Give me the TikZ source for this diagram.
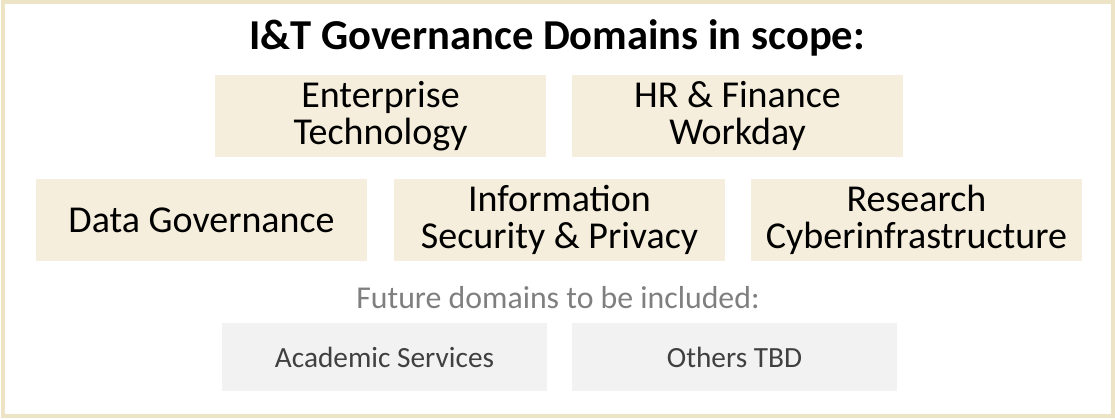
\documentclass[tikz,border=0pt]{standalone}
\usepackage{fontspec}
\setmainfont{Carlito}
\definecolor{frame}{HTML}{EDE3C5}
\definecolor{tan}{HTML}{F6EEDC}
\definecolor{lgray}{HTML}{F2F2F2}
\definecolor{dgray}{HTML}{404040}
\definecolor{mgray}{HTML}{7F7F7F}
\tikzset{
  dombox/.style={fill=tan, draw=none, minimum width=331pt, minimum height=82pt, inner sep=0pt, align=center, text=black, font=\fontsize{38}{37}\selectfont},
  futbox/.style={fill=lgray, draw=none, minimum width=325pt, minimum height=68pt, inner sep=0pt, align=center, text=dgray, font=\fontsize{29.3}{30}\selectfont},
}
\begin{document}
\begin{tikzpicture}[x=1pt,y=-1pt]
\useasboundingbox (0,0) rectangle (1115,418);
\draw[frame, line width=4pt] (3,2) rectangle (1113,416);
\node[font=\bfseries\fontsize{42.6}{42}\selectfont, anchor=center] (title) at (557,38) {I\&T Governance Domains in scope:};
\node[dombox] (et) at (380.5,116) {Enterprise\\Technology};
\node[dombox] (hr) at (737.5,116) {HR \& Finance\\Workday};
\node[dombox] (dg) at (201.5,220) {Data Governance};
\node[dombox] (is) at (559.5,220) {Information\\Security \& Privacy};
\node[dombox] (rc) at (916.5,220) {Research\\Cyberinfrastructure};
\node[text=mgray, font=\fontsize{31.8}{32}\selectfont] (fut) at (558,298) {Future domains to be included:};
\node[futbox] (as) at (384.5,357) {Academic Services};
\node[futbox] (ot) at (734.5,357) {Others TBD};
\end{tikzpicture}
\end{document}
